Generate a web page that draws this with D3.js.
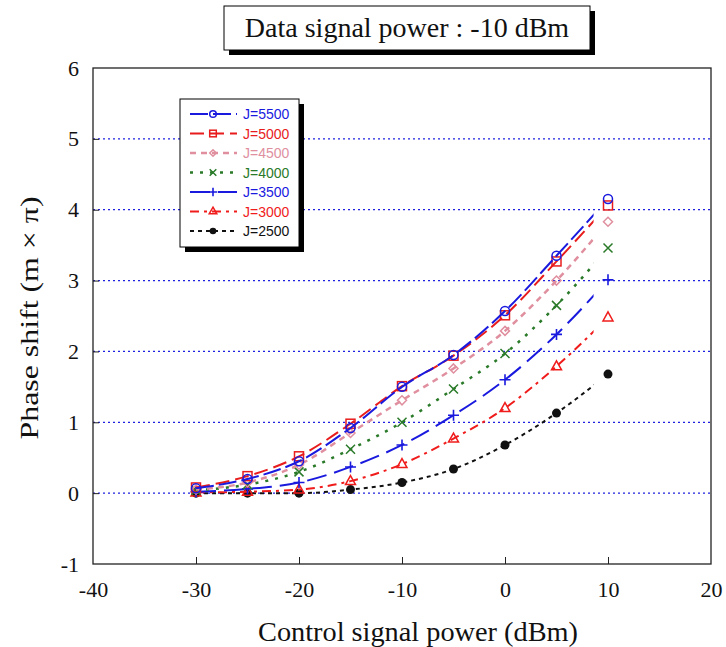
<!DOCTYPE html>
<html>
<head>
<meta charset="utf-8">
<script src="https://cdn.jsdelivr.net/npm/d3@7"></script>
<style>
  body { margin: 0; background: #fff; }
  svg text { font-family: "Liberation Serif", "Times New Roman", serif; }
</style>
</head>
<body>
<div id="chart"></div>
<script>
let width = 726,
    height = 647

// control signal power (dBm)
let xValues = [-30, -25, -20, -15, -10, -5, 0, 5, 10]

// phase shift (m x pi) per J value
let j5500 = [0.07, 0.20, 0.45, 0.92, 1.50, 1.95, 2.57, 3.35, 4.15]
let j5000 = [0.08, 0.24, 0.52, 0.98, 1.51, 1.94, 2.51, 3.27, 4.06]
let j4500 = [0.05, 0.15, 0.40, 0.85, 1.31, 1.76, 2.29, 3.00, 3.83]
let j4000 = [0.04, 0.12, 0.30, 0.62, 1.00, 1.47, 1.97, 2.65, 3.46]
let j3500 = [0.02, 0.06, 0.15, 0.37, 0.68, 1.10, 1.60, 2.24, 3.01]
let j3000 = [0.01, 0.02, 0.05, 0.17, 0.41, 0.77, 1.20, 1.79, 2.48]
let j2500 = [0.00, 0.00, 0.00, 0.05, 0.15, 0.34, 0.68, 1.13, 1.68]

let seriesNames = ["J=5500", "J=5000", "J=4500", "J=4000", "J=3500", "J=3000", "J=2500"]
let seriesValues = [j5500, j5000, j4500, j4000, j3500, j3000, j2500]

let xTicks = [-40, -30, -20, -10, 0, 10, 20]
let yTicks = [-1, 0, 1, 2, 3, 4, 5, 6]
let gridValues = [0, 1, 2, 3, 4, 5]

// look of each series
let styles = [
  { color: "#1a1adf", dash: "18,5", w: 2, marker: "circle" },
  { color: "#e81c1c", dash: "14,6", w: 2, marker: "square" },
  { color: "#e08f9f", dash: "6,5", w: 2.5, marker: "diamond" },
  { color: "#2a7a2a", dash: "3,7", w: 2.5, marker: "cross" },
  { color: "#1a1adf", dash: "20,8", w: 2, marker: "plus" },
  { color: "#f01c1c", dash: "9,5,3,5", w: 2, marker: "triangle" },
  { color: "#111111", dash: "4,4", w: 2, marker: "dot" }
]

let svg = d3.select("#chart").append("svg")
  .attr("width", width)
  .attr("height", height)

let x = d3.scaleLinear().domain([-40, 20]).range([93, 711])
let y = d3.scaleLinear().domain([-1, 6]).range([564, 68])

// dotted blue grid
svg.append("g")
  .selectAll("line")
  .data(gridValues)
  .enter().append("line")
  .attr("x1", x(-40)).attr("x2", x(20))
  .attr("y1", d => y(d)).attr("y2", d => y(d))
  .attr("stroke", "#2020e0")
  .attr("stroke-width", 1.3)
  .attr("stroke-dasharray", "2,3")

// axes (ticks point inward), plain hyphen for negatives
let xAxis = svg.append("g")
  .attr("transform", `translate(0,${y(-1)})`)
  .call(d3.axisBottom(x).tickValues(xTicks).tickSize(-7).tickPadding(17).tickFormat(d => String(d)))
let yAxis = svg.append("g")
  .attr("transform", `translate(${x(-40)},0)`)
  .call(d3.axisLeft(y).tickValues(yTicks).tickSize(-6).tickPadding(14).tickFormat(d => String(d)))

;[xAxis, yAxis].forEach(a => {
  a.select(".domain").remove()
  a.selectAll("text")
    .style("font-family", "Liberation Serif")
    .style("font-size", "22px")
    .attr("fill", "#111")
  a.selectAll("line").attr("stroke", "#222")
})
xAxis.selectAll(".tick").filter(d => d == -40 || d == 20).select("line").remove()
yAxis.selectAll(".tick").filter(d => d == -1 || d == 6).select("line").remove()

// plot frame
svg.append("rect")
  .attr("x", x(-40)).attr("y", y(6))
  .attr("width", x(20) - x(-40)).attr("height", y(-1) - y(6))
  .attr("fill", "none").attr("stroke", "#222").attr("stroke-width", 1.3)

// axis titles
svg.append("text")
  .attr("x", 418).attr("y", 641)
  .attr("text-anchor", "middle")
  .style("font-size", "27px")
  .attr("textLength", 320)
  .attr("lengthAdjust", "spacingAndGlyphs")
  .attr("fill", "#111")
  .text("Control signal power (dBm)")

svg.append("text")
  .attr("transform", "translate(38,318) rotate(-90)")
  .attr("text-anchor", "middle")
  .style("font-size", "25px")
  .attr("textLength", 243)
  .attr("lengthAdjust", "spacingAndGlyphs")
  .attr("fill", "#111")
  .text("Phase shift (m × π)")

// curves, stopped a little before the last marker
svg.append("clipPath").attr("id", "clip")
  .append("rect")
  .attr("x", x(-31)).attr("y", y(6))
  .attr("width", x(8.6) - x(-31)).attr("height", y(-1) - y(6))

let line = d3.line()
  .x(d => x(d[0]))
  .y(d => y(d[1]))
  .curve(d3.curveMonotoneX)

function drawMarker(g, type, color, s) {
  if (type == "circle") {
    g.append("circle").attr("r", s).attr("fill", "none").attr("stroke", color).attr("stroke-width", 1.5)
  } else if (type == "square") {
    g.append("rect").attr("x", -s).attr("y", -s).attr("width", 2 * s).attr("height", 2 * s)
      .attr("fill", "none").attr("stroke", color).attr("stroke-width", 1.5)
  } else if (type == "diamond") {
    g.append("path").attr("d", `M0,${-s}L${s},0L0,${s}L${-s},0Z`)
      .attr("fill", "none").attr("stroke", color).attr("stroke-width", 1.5)
  } else if (type == "cross") {
    g.append("path").attr("d", `M${-s},${-s}L${s},${s}M${-s},${s}L${s},${-s}`)
      .attr("stroke", color).attr("stroke-width", 1.5)
  } else if (type == "plus") {
    g.append("path").attr("d", `M${-s - 1},0L${s + 1},0M0,${-s - 1}L0,${s + 1}`)
      .attr("stroke", color).attr("stroke-width", 1.6)
  } else if (type == "triangle") {
    g.append("path").attr("d", `M0,${-s - 1}L${s + 0.5},${s - 1}L${-s - 0.5},${s - 1}Z`)
      .attr("fill", "none").attr("stroke", color).attr("stroke-width", 1.5)
  } else {
    g.append("circle").attr("r", s).attr("fill", color)
  }
}

let plot = svg.append("g")
seriesValues.slice().reverse().forEach((vals, ri) => {
  let i = seriesValues.length - 1 - ri
  let st = styles[i]
  let pts = xValues.map((xv, k) => [xv, vals[k]])
  plot.append("path")
    .attr("d", line(pts))
    .attr("clip-path", "url(#clip)")
    .attr("fill", "none")
    .attr("stroke", st.color)
    .attr("stroke-width", st.w)
    .attr("stroke-dasharray", st.dash)
  pts.forEach(p => {
    let g = plot.append("g").attr("transform", `translate(${x(p[0])},${y(p[1])})`)
    drawMarker(g, st.marker, st.color, 4.5)
  })
})

// legend box with shadow
let lg = svg.append("g").attr("transform", "translate(180,99)")
lg.append("rect").attr("x", 5).attr("y", 5).attr("width", 119).attr("height", 148).attr("fill", "#000")
lg.append("rect").attr("x", 0).attr("y", 0).attr("width", 119).attr("height", 148)
  .attr("fill", "#fff").attr("stroke", "#000").attr("stroke-width", 1)

seriesNames.forEach((name, i) => {
  let st = styles[i]
  let ly = 15 + i * 19.5
  lg.append("line")
    .attr("x1", 10).attr("x2", 57).attr("y1", ly).attr("y2", ly)
    .attr("stroke", st.color).attr("stroke-width", st.w)
    .attr("stroke-dasharray", st.dash)
  let g = lg.append("g").attr("transform", `translate(33,${ly})`)
  drawMarker(g, st.marker, st.color, 3.3)
  lg.append("text")
    .attr("x", 63).attr("y", ly + 5)
    .style("font-family", "Liberation Sans")
    .style("font-size", "14px")
    .attr("fill", st.color)
    .text(name)
})

// title box with shadow
let tb = svg.append("g").attr("transform", "translate(224,6)")
tb.append("rect").attr("x", 5).attr("y", 5).attr("width", 366).attr("height", 44).attr("fill", "#000")
tb.append("rect").attr("width", 366).attr("height", 44)
  .attr("fill", "#fff").attr("stroke", "#000").attr("stroke-width", 1)
tb.append("text")
  .attr("x", 183).attr("y", 31)
  .attr("text-anchor", "middle")
  .style("font-size", "28px")
  .attr("fill", "#111")
  .text("Data signal power : -10 dBm")
</script>
</body>
</html>
